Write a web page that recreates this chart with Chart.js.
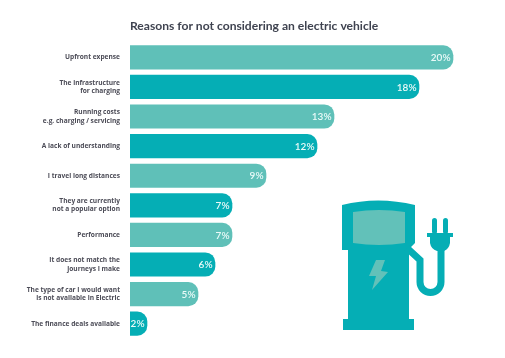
<!DOCTYPE html>
<html>
<head>
<meta charset="utf-8">
<title>Reasons for not considering an electric vehicle</title>
<script src="https://cdn.jsdelivr.net/npm/chart.js@4/dist/chart.umd.min.js"></script>
<style>
    html, body { margin: 0; padding: 0; background: #fff; overflow: hidden; }
    #wrap { position: relative; width: 505px; height: 358px; }
    #pump { position: absolute; left: 0; top: 0; pointer-events: none; }
</style>
</head>
<body>
<div id="wrap">
    <canvas id="reasonsChart" width="505" height="358"></canvas>
    <!-- charging pump illustration, not part of the data -->
    <svg id="pump" width="505" height="358" viewBox="0 0 505 358">
        <path fill="#05aeb5" d="M342 205 Q378 196 415 205 L415 243 L409 249 L409 319 L414 319 L414 330 L343 330 L343 319 L348 319 L348 250 L342 250 Z"/>
        <path fill="#62c1b9" d="M353 212 Q379 208 405 212 L405 243 Q379 247 353 243 Z"/>
        <path fill="#62c1b9" d="M376 260 L385 260 L381 271 L388 272 L372 290 L376 276 L369 276 Z"/>
        <path fill="none" stroke="#05aeb5" stroke-width="7" d="M407 248 L420 260 L420 282 A10.5 10.5 0 0 0 441 282 L441 248"/>
        <path fill="#05aeb5" d="M427 233 L453 233 L453 237 L450 237 L450 243 Q449 249 444 251 L437 251 Q431 249 430 243 L430 237 L427 237 Z"/>
        <rect fill="#05aeb5" x="432" y="218" width="5" height="16" rx="2.5"/>
        <rect fill="#05aeb5" x="443" y="218" width="5" height="16" rx="2.5"/>
    </svg>
</div>
<script>
// Chart data
const titleText = 'Reasons for not considering an electric vehicle';
const categories = [
    'Upfront expense',
    ['The infrastructure', 'for charging'],
    ['Running costs', 'e.g. charging / servicing'],
    'A lack of understanding',
    'I travel long distances',
    ['They are currently', 'not a popular option'],
    'Performance',
    ['It does not match the', 'journeys I make'],
    ['The type of car I would want', 'is not available in Electric'],
    'The finance deals available'
];
const shares = [20, 18, 13, 12, 9, 7, 7, 6, 5, 2];
const axisMin = 1;
const axisMax = 21;

const lightTeal = '#5fc0b8';
const darkTeal = '#05aeb5';

// Percent labels inside the end of each bar
const valueLabels = {
    id: 'valueLabels',
    afterDatasetsDraw(chart) {
        const ctx = chart.ctx;
        ctx.save();
        ctx.fillStyle = '#eafaf8';
        ctx.font = '600 10px Lato';
        ctx.textAlign = 'right';
        ctx.textBaseline = 'middle';
        chart.getDatasetMeta(0).data.forEach((bar, i) => {
            ctx.fillText(shares[i] + '%', bar.x - 2.5, bar.y + 0.5);
        });
        ctx.restore();
    }
};

new Chart(document.getElementById('reasonsChart'), {
    type: 'bar',
    data: {
        labels: categories,
        datasets: [{
            data: shares,
            backgroundColor: shares.map((v, i) => i % 2 === 0 ? lightTeal : darkTeal),
            barThickness: 23.5,
            borderSkipped: false,
            borderRadius: { topLeft: 0, bottomLeft: 0, topRight: 10, bottomRight: 10 }
        }]
    },
    options: {
        indexAxis: 'y',
        responsive: false,
        animation: false,
        layout: { padding: { top: 13, right: 35, bottom: 19.5, left: 0 } },
        scales: {
            x: {
                display: false,
                min: axisMin,
                max: axisMax,
                grid: { display: false }
            },
            y: {
                afterFit(scale) { scale.width = 130; },
                border: { display: false },
                grid: { display: false, drawTicks: false },
                ticks: {
                    padding: 10,
                    color: '#4c4c57',
                    autoSkip: false,
                    font: { family: 'Open Sans', size: 6.6, weight: '700', lineHeight: 1.3 }
                }
            }
        },
        plugins: {
            legend: { display: false },
            tooltip: { enabled: false },
            title: {
                display: true,
                text: titleText,
                align: 'start',
                fullSize: false,
                color: '#3f4350',
                font: { family: 'Lato', size: 12.1, weight: '700', lineHeight: 1.2 },
                padding: { top: 6, bottom: 9 }
            }
        }
    },
    plugins: [valueLabels]
});
</script>
</body>
</html>
